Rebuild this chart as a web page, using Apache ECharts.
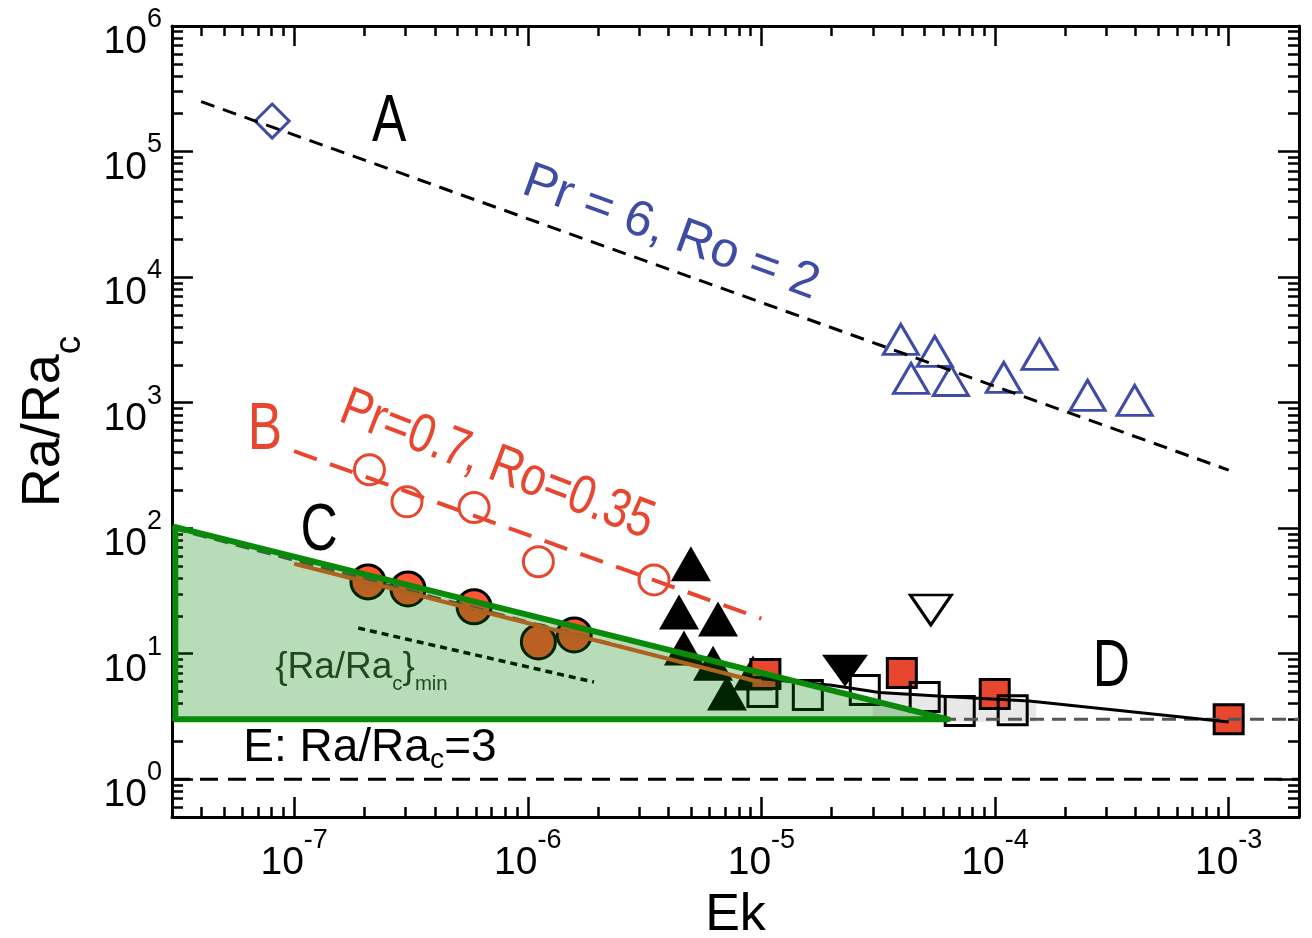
<!DOCTYPE html>
<html>
<head>
<meta charset="utf-8">
<script src="https://cdn.jsdelivr.net/npm/echarts@6/dist/echarts.min.js"></script>
<style>
  html, body { margin: 0; padding: 0; background: #fff; }
  #chart { width: 1312px; height: 938px; }
</style>
</head>
<body>
<div id="chart"></div>
<script>
// axis ranges
var ekMin = 3e-8, ekMax = 2e-3;
var raMin = 0.5, raMax = 1e6;

// tick values and labels (exponents)
var xTickValues = [1e-7, 1e-6, 1e-5, 1e-4, 1e-3];
var xTickExp = ['-7', '-6', '-5', '-4', '-3'];
var yTickValues = [1, 10, 100, 1e3, 1e4, 1e5, 1e6];
var yTickExp = ['0', '1', '2', '3', '4', '5', '6'];

// A : Pr = 6, Ro = 2
var lineA = [[4e-8, 2.5e5], [1e-3, 290]];
var diamondA = [[8.05e-8, 1.75e5]];
var trianglesA = [[3.95e-5, 3190], [5.52e-5, 2560], [4.37e-5, 1560], [6.47e-5, 1500],
                  [1.09e-4, 1590], [1.55e-4, 2420], [2.49e-4, 1140], [3.96e-4, 1040]];

// B : Pr = 0.7, Ro = 0.35
var lineB = [[1e-7, 410], [1e-5, 19]];
var circlesB = [[2.10e-7, 292], [3.04e-7, 162], [5.89e-7, 146], [1.11e-6, 54], [3.47e-6, 38.7]];

// C
var lineC = [[1e-7, 52], [1e-5, 5.9]];
var circlesC = [[2.07e-7, 37.3], [3.07e-7, 32.8], [5.89e-7, 23.6], [1.11e-6, 12.4], [1.58e-6, 14.1]];
var guideC = [[3e-8, 100], [1e-5, 5.8]];
var minLine = [[1.88e-7, 16.0], [1.92e-6, 5.94]];

var blackUp = [[4.99e-6, 52], [4.44e-6, 21.5], [6.52e-6, 18.9], [4.66e-6, 11.1],
               [6.21e-6, 8.4], [9.2e-6, 7.0], [7.12e-6, 4.86]];
var blackDown = [[2.28e-5, 7.3]];
var openDown = [[5.31e-5, 22.3]];

// D
var redSquares = [[1.04e-5, 6.9], [3.99e-5, 7.0], [9.97e-5, 4.77], [1.0e-3, 3.0]];
var openSquares = [[1.01e-5, 4.95], [1.58e-5, 4.68], [2.77e-5, 5.13], [5.0e-5, 4.51],
                   [7.06e-5, 3.49], [1.19e-4, 3.55]];
var curveD = [[1e-5, 6.3], [2e-5, 5.6], [3.2e-5, 4.9], [7e-5, 4.5], [1.4e-4, 4.2], [1e-3, 2.85]];

// E and Ra/Ra_c = 1
var levelE = [[ekMin, 3], [ekMax, 3]];
var levelOne = [[ekMin, 1], [ekMax, 1]];

// shaded regions
var regionGreen = [[3.1e-8, 102], [6.3e-5, 3], [3.1e-8, 3]];
var regionGray = [[3e-5, 4.9], [7e-5, 4.5], [1.5e-4, 4.15], [1.5e-4, 2.85], [3e-5, 2.85]];

// annotations
var noteText = ['A', 'B', 'C', 'D', 'Pr = 6, Ro = 2', 'Pr=0.7, Ro=0.35',
                '{t|{Ra/Ra}{sub|c}}{sub|min}', '{t|E: Ra/Ra}{sub|c}{t|=3}'];
var notePos = [[2.55e-7, 1.69e5], [7.5e-8, 599], [1.28e-7, 93.6], [3.15e-4, 7.69],
               [4.1e-6, 2.24e4], [7.38e-7, 315], [1.94e-7, 7.69], [2.11e-7, 1.77]];

var FONT = "'Liberation Sans', Arial, sans-serif";
var BLUE = '#3E4CA5', RED = '#E8472F';

// minor ticks 2..9 per decade
function minorTicks(lo, hi) {
  var out = [];
  for (var e = Math.floor(Math.log10(lo)); e <= Math.ceil(Math.log10(hi)); e++) {
    for (var k = 2; k <= 9; k++) {
      var v = k * Math.pow(10, e);
      if (v > lo * 1.0001 && v < hi * 0.9999) out.push(v);
    }
  }
  return out;
}
var xMinor = minorTicks(ekMin, ekMax);
var yMinor = minorTicks(raMin, raMax);

function expFormatter(values, exps) {
  return function (v) {
    for (var i = 0; i < values.length; i++) {
      if (Math.abs(Math.log10(v) - Math.log10(values[i])) < 1e-6) {
        return '{b|10}{s|' + exps[i] + '}';
      }
    }
    return '';
  };
}
var tickRich = {
  b: { fontSize: 39, lineHeight: 30, padding: [17, 0, 0, 0], verticalAlign: 'top', fontFamily: FONT, color: '#000' },
  s: { fontSize: 27, lineHeight: 30, verticalAlign: 'top', fontFamily: FONT, color: '#000' }
};

function subRich(size, sub, pad, color) {
  return {
    t: { fontSize: size, lineHeight: size, verticalAlign: 'top', fontFamily: FONT, color: color, fill: color },
    sub: { fontSize: size * sub, lineHeight: size * sub, padding: [size * pad, 0, 0, 0],
           verticalAlign: 'top', fontFamily: FONT, color: color, fill: color }
  };
}

var axisLineStyle = { color: '#000', width: 3 };
function logX(grid, pos, major) {
  return {
    type: 'log', gridIndex: grid, position: pos, min: ekMin, max: ekMax,
    axisLine: { show: major, onZero: false, lineStyle: axisLineStyle },
    axisTick: { show: true, inside: true, length: major ? 20 : 10,
                customValues: major ? xTickValues : xMinor,
                lineStyle: { color: '#000', width: 2.5 } },
    axisLabel: { show: false },
    splitLine: { show: false }, minorTick: { show: false }
  };
}
function logY(grid, pos, major) {
  return {
    type: 'log', gridIndex: grid, position: pos, min: raMin, max: raMax,
    axisLine: { show: major, onZero: false, lineStyle: axisLineStyle },
    axisTick: { show: true, inside: true, length: major ? 21 : 11,
                customValues: major ? yTickValues : yMinor,
                lineStyle: { color: '#000', width: 2.5 } },
    axisLabel: { show: false },
    splitLine: { show: false }, minorTick: { show: false }
  };
}

// bottom and left axes carry labels and names
var xa0 = logX(0, 'bottom', true);
xa0.axisLabel = { show: true, customValues: xTickValues, formatter: expFormatter(xTickValues, xTickExp),
                  rich: tickRich, margin: 10 };
xa0.name = 'Ek';
xa0.nameLocation = 'middle';
xa0.nameGap = 73;
xa0.nameTextStyle = { fontSize: 52, fontFamily: FONT, color: '#000' };

var ya0 = logY(0, 'left', true);
ya0.axisLabel = { show: true, customValues: yTickValues, formatter: expFormatter(yTickValues, yTickExp),
                  rich: tickRich, margin: 10, padding: [0, 0, 10, 0] };
ya0.name = '{t|Ra/Ra}{sub|c}';
ya0.nameLocation = 'middle';
ya0.nameRotate = 90;
ya0.nameGap = 101;
ya0.nameTextStyle = { fontSize: 54, fontFamily: FONT, color: '#000', rich: subRich(54, 0.68, 0.64, '#000') };

function dashLine(data, color, width, dash) {
  return { type: 'line', data: data, symbol: 'none', silent: true, animation: false,
           lineStyle: { color: color, width: width, type: dash } };
}
function marks(data, symbol, size, fill, border, bw, rotate) {
  return { type: 'scatter', data: data, symbol: symbol, symbolSize: size, symbolRotate: rotate || 0,
           silent: true, animation: false,
           itemStyle: { color: fill, borderColor: border, borderWidth: bw, opacity: 1 } };
}
function polygon(points, style, z) {
  return {
    type: 'custom', data: points, silent: true, animation: false, z: z,
    renderItem: function (params, api) {
      if (params.dataIndex !== 0) return null;
      var pts = points.map(function (p) { return api.coord(p); });
      return { type: 'polygon', shape: { points: pts }, style: style };
    }
  };
}

var gridBox = { left: 172, right: 13, top: 26, bottom: 121, outerBoundsMode: 'none', containLabel: false };

var option = {
  backgroundColor: '#fff',
  animation: false,
  grid: [gridBox, gridBox],
  xAxis: [xa0, logX(0, 'top', true), logX(1, 'bottom', false), logX(1, 'top', false)],
  yAxis: [ya0, logY(0, 'right', true), logY(1, 'left', false), logY(1, 'right', false)],
  series: [
    polygon(regionGray, { fill: 'rgba(0,0,0,0.09)' }, 1),
    dashLine(levelOne, '#000', 3, [18, 10]),
    dashLine(levelE, '#555', 3, [14, 8]),
    dashLine(guideC, '#555', 3, [14, 8]),
    dashLine(lineA, '#000', 3, [14, 9]),
    dashLine(lineB, RED, 4, [24, 14]),
    dashLine(lineC, '#F2562A', 4, 'solid'),
    dashLine(minLine, '#000', 3.5, [7, 5]),
    marks(diamondA, 'diamond', 34, 'rgba(0,0,0,0)', BLUE, 3),
    marks(trianglesA, 'triangle', [35, 30], 'rgba(0,0,0,0)', BLUE, 3),
    marks(circlesB, 'circle', 30, 'rgba(0,0,0,0)', RED, 3),
    marks(circlesC, 'circle', 34, '#FF5530', '#000', 3),
    marks(blackUp, 'triangle', [40, 35], '#000', '#000', 0),
    marks(redSquares, 'rect', 29, RED, '#000', 3),
    marks(openSquares, 'rect', 29, 'rgba(0,0,0,0)', '#000', 3),
    marks(blackDown, 'triangle', [46, 32], '#000', '#000', 0, 180),
    marks(openDown, 'triangle', [41, 30], 'rgba(0,0,0,0)', '#000', 3, 180),
    dashLine(curveD, '#000', 3, 'solid'),
    polygon(regionGreen, { fill: 'rgba(0,128,0,0.28)', stroke: '#0a8a0a', lineWidth: 6, lineJoin: 'round' }, 10)
  ]
};

var chart = echarts.init(document.getElementById('chart'), null, { renderer: 'canvas' });
chart.setOption(option);

// text annotations anchored at data coordinates; narrow letters squeezed horizontally
var noteStyles = [
  { size: 66, color: '#000', rotate: 0, sx: 0.78 },
  { size: 66, color: RED, rotate: 0, sx: 0.78 },
  { size: 66, color: '#000', rotate: 0, sx: 0.78 },
  { size: 66, color: '#000', rotate: 0, sx: 0.78 },
  { size: 50, color: BLUE, rotate: -20, sx: 1 },
  { size: 55, color: RED, rotate: -21, sx: 0.82 },
  { size: 37, color: '#1f4a1f', rotate: 0, sx: 1, sub: 0.55, pad: 0.66 },
  { size: 46, color: '#000', rotate: 0, sx: 1, sub: 0.62, pad: 0.45 }
];
var graphics = notePos.map(function (p, i) {
  var st = noteStyles[i];
  var px = chart.convertToPixel({ gridIndex: 0 }, p);
  return {
    type: 'text', x: px[0], y: px[1], rotation: st.rotate * Math.PI / 180,
    scaleX: st.sx, scaleY: 1, z: 100, silent: true,
    style: {
      text: noteText[i], fill: st.color, fontSize: st.size, fontFamily: FONT, lineHeight: st.size,
      align: 'center', verticalAlign: 'middle',
      rich: subRich(st.size, st.sub || 0.6, st.pad || 0.6, st.color)
    }
  };
});
chart.setOption({ graphic: graphics });
</script>
</body>
</html>
